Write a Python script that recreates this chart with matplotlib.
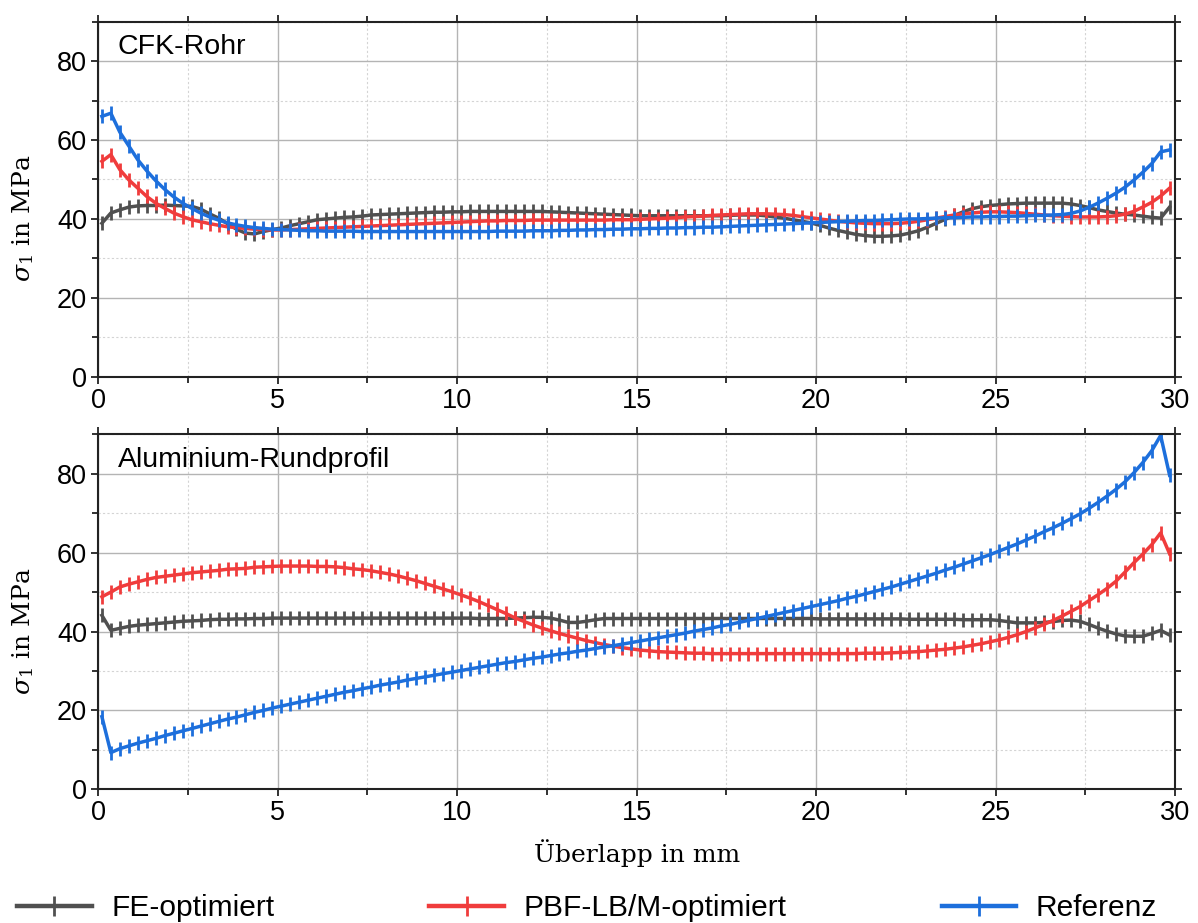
import numpy as np
import matplotlib
matplotlib.use("Agg")
import matplotlib.pyplot as plt
from matplotlib.ticker import MultipleLocator
from matplotlib.lines import Line2D

plt.rcParams["font.family"] = ["Liberation Sans", "DejaVu Sans"]
plt.rcParams["mathtext.fontset"] = "dejavuserif"

# Overlap positions (mm), sampled every 0.25 mm
overlap_mm = np.round(0.1 + 0.25 * np.arange(120), 2)

# --- CFK-Rohr ---
fe_cfk = [
    38.9, 41.5, 42.3, 43.0, 43.3, 43.4, 43.4, 43.5, 43.4, 43.3,
    43.2, 42.5, 41.3, 40.2, 38.8, 37.4, 36.4, 36.2, 36.8, 37.3,
    37.7, 38.3, 38.8, 39.3, 39.8, 40.0, 40.2, 40.4, 40.5, 40.7,
    41.0, 41.1, 41.2, 41.3, 41.4, 41.5, 41.6, 41.7, 41.7, 41.8,
    41.8, 41.9, 41.9, 41.9, 41.9, 41.9, 41.9, 41.9, 41.9, 41.9,
    41.8, 41.7, 41.6, 41.5, 41.4, 41.3, 41.2, 41.1, 41.0, 40.9,
    40.8, 40.8, 40.8, 40.8, 40.8, 40.8, 40.8, 40.8, 40.8, 40.8,
    40.9, 41.0, 41.0, 41.0, 40.8, 40.5, 40.2, 39.8, 39.4, 39.0,
    38.4, 37.7, 37.1, 36.6, 36.1, 35.8, 35.6, 35.6, 35.7, 35.9,
    36.4, 37.0, 37.9, 38.9, 39.9, 40.9, 41.8, 42.6, 43.1, 43.4,
    43.6, 43.8, 43.9, 44.0, 44.0, 44.0, 44.0, 44.0, 43.8, 43.4,
    42.9, 42.3, 41.9, 41.5, 41.2, 41.0, 40.7, 40.4, 40.2, 43.0,
]
pbf_cfk = [
    54.6, 56.3, 52.5, 49.9, 47.8, 45.7, 44.0, 42.7, 41.5, 40.6,
    39.8, 39.3, 38.8, 38.4, 38.0, 37.8, 37.6, 37.4, 37.3, 37.2,
    37.2, 37.3, 37.4, 37.5, 37.6, 37.7, 37.8, 37.9, 38.0, 38.1,
    38.2, 38.3, 38.4, 38.5, 38.6, 38.7, 38.8, 38.9, 39.0, 39.1,
    39.2, 39.3, 39.4, 39.5, 39.5, 39.6, 39.6, 39.6, 39.7, 39.7,
    39.7, 39.7, 39.7, 39.7, 39.7, 39.7, 39.7, 39.8, 39.8, 39.8,
    39.9, 40.0, 40.1, 40.2, 40.3, 40.5, 40.6, 40.7, 40.9, 41.0,
    41.1, 41.2, 41.3, 41.3, 41.3, 41.2, 41.1, 40.9, 40.6, 40.3,
    40.0, 39.7, 39.4, 39.2, 39.0, 38.9, 38.8, 38.8, 38.8, 38.9,
    39.1, 39.4, 39.8, 40.2, 40.6, 41.0, 41.3, 41.5, 41.7, 41.8,
    41.8, 41.7, 41.6, 41.4, 41.2, 41.0, 40.8, 40.7, 40.6, 40.5,
    40.5, 40.5, 40.6, 40.8, 41.2, 41.9, 43.0, 44.2, 45.8, 47.8,
]
ref_cfk = [
    66.0, 66.8, 62.0, 58.5, 55.0, 52.2, 49.7, 47.5, 45.6, 44.0,
    42.7, 41.5, 40.5, 39.7, 39.0, 38.5, 38.1, 37.8, 37.6, 37.4,
    37.3, 37.2, 37.1, 37.0, 37.0, 36.9, 36.9, 36.9, 36.9, 36.8,
    36.8, 36.8, 36.8, 36.8, 36.8, 36.8, 36.8, 36.8, 36.8, 36.8,
    36.8, 36.8, 36.8, 36.8, 36.9, 36.9, 36.9, 36.9, 37.0, 37.0,
    37.0, 37.1, 37.1, 37.2, 37.2, 37.3, 37.3, 37.4, 37.4, 37.5,
    37.5, 37.6, 37.6, 37.7, 37.7, 37.8, 37.8, 37.9, 37.9, 38.0,
    38.1, 38.2, 38.3, 38.4, 38.5, 38.6, 38.7, 38.8, 38.9, 39.0,
    39.1, 39.2, 39.3, 39.4, 39.5, 39.6, 39.6, 39.7, 39.8, 39.9,
    40.0, 40.0, 40.1, 40.2, 40.3, 40.3, 40.4, 40.5, 40.5, 40.6,
    40.6, 40.7, 40.7, 40.8, 40.9, 40.9, 41.0, 41.1, 41.4, 42.0,
    42.9, 44.0, 45.2, 46.5, 48.0, 49.8, 51.8, 54.0, 57.0, 57.5,
]

# --- Aluminium-Rundprofil ---
fe_alu = [
    44.1, 40.3, 40.8, 41.3, 41.6, 41.8, 42.0, 42.2, 42.4, 42.6,
    42.7, 42.8, 43.0, 43.1, 43.1, 43.2, 43.2, 43.3, 43.3, 43.4,
    43.4, 43.4, 43.4, 43.4, 43.4, 43.4, 43.4, 43.4, 43.4, 43.4,
    43.4, 43.4, 43.4, 43.4, 43.4, 43.4, 43.4, 43.4, 43.4, 43.4,
    43.4, 43.4, 43.3, 43.3, 43.3, 43.3, 43.4, 43.5, 43.6, 43.6,
    43.4, 42.9, 42.3, 42.3, 42.6, 43.0, 43.3, 43.3, 43.3, 43.3,
    43.3, 43.3, 43.3, 43.3, 43.3, 43.3, 43.3, 43.3, 43.3, 43.3,
    43.3, 43.3, 43.3, 43.3, 43.3, 43.3, 43.3, 43.3, 43.3, 43.3,
    43.2, 43.2, 43.2, 43.2, 43.2, 43.2, 43.2, 43.2, 43.2, 43.2,
    43.1, 43.1, 43.1, 43.1, 43.1, 43.1, 43.0, 43.0, 43.0, 43.0,
    42.8, 42.5, 42.2, 42.2, 42.2, 42.3, 42.5, 42.8, 42.9, 42.6,
    41.8, 40.9, 40.1, 39.4, 38.9, 38.8, 38.8, 39.5, 40.3, 39.1,
]
pbf_alu = [
    48.8, 50.0, 51.3, 52.0, 52.6, 53.2, 53.7, 54.0, 54.3, 54.6,
    54.9, 55.1, 55.3, 55.5, 55.8, 55.9, 56.0, 56.3, 56.4, 56.5,
    56.6, 56.6, 56.6, 56.6, 56.5, 56.5, 56.4, 56.2, 55.9, 55.7,
    55.4, 55.0, 54.6, 54.1, 53.5, 52.9, 52.2, 51.5, 50.8, 50.1,
    49.3, 48.5, 47.6, 46.6, 45.6, 44.6, 43.5, 42.6, 41.7, 40.9,
    40.2, 39.5, 38.9, 38.3, 37.7, 37.2, 36.7, 36.3, 35.9, 35.6,
    35.3, 35.1, 34.9, 34.8, 34.7, 34.6, 34.5, 34.5, 34.4, 34.4,
    34.4, 34.4, 34.4, 34.4, 34.4, 34.4, 34.4, 34.4, 34.4, 34.4,
    34.4, 34.4, 34.4, 34.4, 34.4, 34.5, 34.5, 34.5, 34.6, 34.7,
    34.8, 34.9, 35.1, 35.3, 35.5, 35.8, 36.1, 36.5, 36.9, 37.4,
    37.9, 38.5, 39.2, 40.0, 40.9, 41.8, 42.8, 43.9, 45.1, 46.3,
    47.8, 49.3, 50.9, 52.7, 55.0, 57.4, 59.6, 62.0, 65.0, 59.7,
]
ref_alu = [
    18.4, 9.3, 10.3, 11.0, 11.7, 12.3, 12.9, 13.6, 14.2, 14.8,
    15.4, 16.0, 16.6, 17.2, 17.8, 18.3, 18.9, 19.5, 20.0, 20.6,
    21.1, 21.6, 22.1, 22.6, 23.1, 23.6, 24.1, 24.6, 25.0, 25.5,
    25.9, 26.4, 26.8, 27.2, 27.7, 28.1, 28.5, 28.9, 29.3, 29.7,
    30.1, 30.5, 30.9, 31.3, 31.7, 32.1, 32.4, 32.8, 33.2, 33.5,
    33.9, 34.3, 34.6, 35.0, 35.3, 35.7, 36.1, 36.4, 36.8, 37.2,
    37.6, 38.0, 38.4, 38.8, 39.2, 39.6, 40.1, 40.5, 40.9, 41.4,
    41.8, 42.3, 42.8, 43.3, 43.8, 44.3, 44.8, 45.3, 45.8, 46.3,
    46.8, 47.3, 47.8, 48.4, 48.9, 49.5, 50.1, 50.7, 51.3, 52.0,
    52.7, 53.4, 54.1, 54.8, 55.6, 56.3, 57.1, 57.9, 58.7, 59.5,
    60.4, 61.3, 62.2, 63.2, 64.2, 65.3, 66.3, 67.4, 68.6, 69.8,
    71.2, 72.7, 74.3, 76.0, 77.9, 80.2, 82.8, 85.8, 89.7, 79.6,
]

series_names = ["FE-optimiert", "PBF-LB/M-optimiert", "Referenz"]
series_colors = ["#505050", "#F03C3C", "#1D6FDC"]
panel_titles = ["CFK-Rohr", "Aluminium-Rundprofil"]
panel_data = [(fe_cfk, pbf_cfk, ref_cfk), (fe_alu, pbf_alu, ref_alu)]

W, H = 1198, 923
fig = plt.figure(figsize=(W / 100, H / 100), dpi=100)
fig.patch.set_facecolor("white")

left, right = 98.3 / W, 1175 / W
panel_px = [(21.7, 376.7), (434.3, 789.3)]

label_font = dict(family="DejaVu Serif", size=18)

for (top_px, bot_px), title, data in zip(panel_px, panel_titles, panel_data):
    ax = fig.add_axes([left, 1 - bot_px / H, right - left, (bot_px - top_px) / H])
    ax.set_xlim(0, 30)
    ax.set_ylim(0, 90)
    ax.xaxis.set_major_locator(MultipleLocator(5))
    ax.xaxis.set_minor_locator(MultipleLocator(2.5))
    ax.yaxis.set_major_locator(MultipleLocator(20))
    ax.yaxis.set_minor_locator(MultipleLocator(10))
    ax.grid(which="major", color="#b4b4b4", lw=1.0, ls="-")
    ax.grid(which="minor", color="#d4d4d4", lw=0.8, ls=(0, (2, 2)))
    ax.set_axisbelow(True)
    for sp in ax.spines.values():
        sp.set_linewidth(1.5)
        sp.set_color("#222222")
    ax.tick_params(which="both", direction="out", top=True, right=True,
                   width=1.3, color="#222222", labelsize=19.5, pad=3)
    ax.tick_params(which="major", length=5)
    ax.tick_params(which="minor", length=4)

    for vals, color in zip(data, series_colors):
        ax.plot(overlap_mm, vals, color=color, lw=2.5, marker="|",
                markersize=10, markeredgewidth=2.0, solid_joinstyle="round")

    ax.text(0.018, 0.908, title, transform=ax.transAxes, fontsize=20.5,
            va="baseline", ha="left")
    ax.set_ylabel(r"$\sigma_1$ in MPa", fontdict=label_font)
    ax.yaxis.set_label_coords(-0.058, 0.445)

fig.text(636.7 / W, 1 - 853 / H, "Überlapp in mm", ha="center", va="center",
         fontdict=label_font)

handles = [Line2D([], [], color=c, lw=3.2, marker="|", markersize=15,
                  markeredgewidth=2.0) for c in series_colors]
fig.legend(handles, series_names, loc="center left",
           bbox_to_anchor=(17 / W, 1 - 908 / H), ncol=3, frameon=False,
           fontsize=21.5, handlelength=2.5, handletextpad=0.65,
           columnspacing=5.2, borderpad=0, borderaxespad=0, numpoints=1)

fig.savefig("out.png", dpi=100, facecolor="white")
